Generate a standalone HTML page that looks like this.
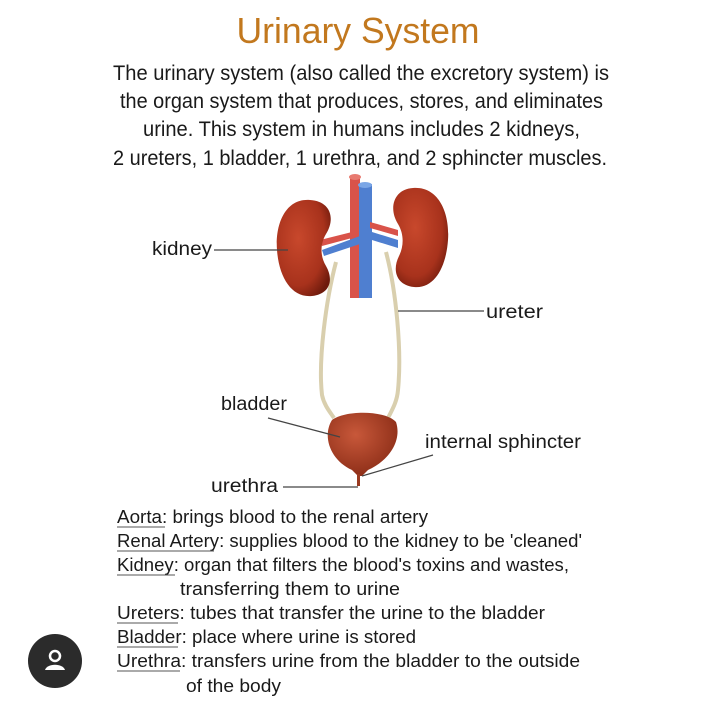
<!DOCTYPE html>
<html><head><meta charset="utf-8"><style>
html,body{margin:0;padding:0;background:#fff;}
svg{display:block;}
text{font-family:"Liberation Sans",sans-serif;fill:#1a1a1a;}
</style></head><body>
<svg width="720" height="702" viewBox="0 0 720 702" xmlns="http://www.w3.org/2000/svg">
<defs>
<radialGradient id="kid" cx="40%" cy="40%" r="70%"><stop offset="0" stop-color="#c8482c"/><stop offset="0.7" stop-color="#a8321c"/><stop offset="1" stop-color="#6e1a0c"/></radialGradient>
<radialGradient id="bl" cx="40%" cy="35%" r="70%"><stop offset="0" stop-color="#c8583a"/><stop offset="1" stop-color="#8a2c16"/></radialGradient>
</defs>
<text x="358" y="43" font-size="36" text-anchor="middle" fill="#c2781e" style="fill:#c2781e" textLength="243" lengthAdjust="spacingAndGlyphs">Urinary System</text>
<g font-size="21">
<text x="113" y="80" textLength="496" lengthAdjust="spacingAndGlyphs">The urinary system (also called the excretory system) is</text>
<text x="120" y="108" textLength="483" lengthAdjust="spacingAndGlyphs">the organ system that produces, stores, and eliminates</text>
<text x="143" y="136" textLength="437" lengthAdjust="spacingAndGlyphs">urine. This system in humans includes 2 kidneys,</text>
<text x="113" y="165" textLength="494" lengthAdjust="spacingAndGlyphs">2 ureters, 1 bladder, 1 urethra, and 2 sphincter muscles.</text>
</g>
<!-- ureters -->
<path d="M336 262 C326 300 318 360 322 395 C324 405 330 412 334 418" fill="none" stroke="#d9cfae" stroke-width="4"/>
<path d="M386 252 C396 290 402 350 398 390 C397 402 392 410 388 418" fill="none" stroke="#d9cfae" stroke-width="4"/>
<!-- vessels -->
<rect x="350" y="176" width="10" height="122" fill="#d9534a"/>
<ellipse cx="355" cy="177" rx="6" ry="3" fill="#e87a70"/>
<rect x="359" y="184" width="13" height="114" fill="#4f7fd0"/>
<ellipse cx="365" cy="185" rx="7" ry="3" fill="#7aa6e6"/>
<path d="M320 240 L352 232 L352 238 L322 246Z" fill="#d9534a"/>
<path d="M322 250 L360 236 L360 244 L324 256Z" fill="#4f7fd0"/>
<path d="M370 222 L398 230 L398 236 L370 228Z" fill="#d9534a"/>
<path d="M372 232 L398 240 L398 248 L372 240Z" fill="#4f7fd0"/>
<!-- kidneys -->
<path d="M310 200 C285 198 275 225 277 250 C279 278 292 298 312 296 C330 294 334 280 326 266 C320 256 320 244 326 234 C336 218 330 201 310 200Z" fill="url(#kid)"/>
<path d="M413 188 C438 186 450 212 448 240 C446 268 434 289 414 287 C396 285 392 270 399 256 C404 246 404 234 398 224 C388 208 394 189 413 188Z" fill="url(#kid)"/>
<!-- bladder -->
<path d="M332 420 C345 410 385 410 396 422 C402 440 390 460 368 470 L362 476 L358 476 L352 470 C330 460 322 436 332 420Z" fill="url(#bl)"/>
<rect x="357" y="474" width="3" height="12" fill="#9a3a20"/>
<!-- labels -->
<g font-size="19">
<text x="152" y="255" textLength="60" lengthAdjust="spacingAndGlyphs">kidney</text>
<text x="486" y="318" textLength="57" lengthAdjust="spacingAndGlyphs">ureter</text>
<text x="221" y="410" textLength="66" lengthAdjust="spacingAndGlyphs">bladder</text>
<text x="425" y="448" textLength="156" lengthAdjust="spacingAndGlyphs">internal sphincter</text>
<text x="211" y="492" textLength="67" lengthAdjust="spacingAndGlyphs">urethra</text>
</g>
<g stroke="#444" stroke-width="1.2" fill="none">
<line x1="214" y1="250" x2="288" y2="250"/>
<line x1="398" y1="311" x2="484" y2="311"/>
<line x1="268" y1="418" x2="340" y2="437"/>
<line x1="433" y1="455" x2="362" y2="476"/>
<line x1="283" y1="487" x2="358" y2="487"/>
</g>
<!-- definitions -->
<g font-size="18">
<text x="117" y="523" textLength="311" lengthAdjust="spacingAndGlyphs">Aorta: brings blood to the renal artery</text>
<text x="117" y="547" textLength="465" lengthAdjust="spacingAndGlyphs">Renal Artery: supplies blood to the kidney to be 'cleaned'</text>
<text x="117" y="571" textLength="452" lengthAdjust="spacingAndGlyphs">Kidney: organ that filters the blood's toxins and wastes,</text>
<text x="180" y="595" textLength="220" lengthAdjust="spacingAndGlyphs">transferring them to urine</text>
<text x="117" y="619" textLength="428" lengthAdjust="spacingAndGlyphs">Ureters: tubes that transfer the urine to the bladder</text>
<text x="117" y="643" textLength="299" lengthAdjust="spacingAndGlyphs">Bladder: place where urine is stored</text>
<text x="117" y="667" textLength="463" lengthAdjust="spacingAndGlyphs">Urethra: transfers urine from the bladder to the outside</text>
<text x="186" y="692" textLength="95" lengthAdjust="spacingAndGlyphs">of the body</text>
</g>
<g stroke="#555" stroke-width="1">
<line x1="117" y1="527" x2="165" y2="527"/>
<line x1="117" y1="551" x2="214" y2="551"/>
<line x1="117" y1="575" x2="175" y2="575"/>
<line x1="117" y1="623" x2="178" y2="623"/>
<line x1="117" y1="647" x2="178" y2="647"/>
<line x1="117" y1="671" x2="180" y2="671"/>
</g>
<!-- avatar icon -->
<circle cx="55" cy="661" r="27" fill="#2b2b2b"/>
<circle cx="55" cy="656" r="5" fill="none" stroke="#fff" stroke-width="2.5"/>
<path d="M45 670 C47 663 63 663 65 670Z" fill="#fff"/>
</svg>
</body></html>
